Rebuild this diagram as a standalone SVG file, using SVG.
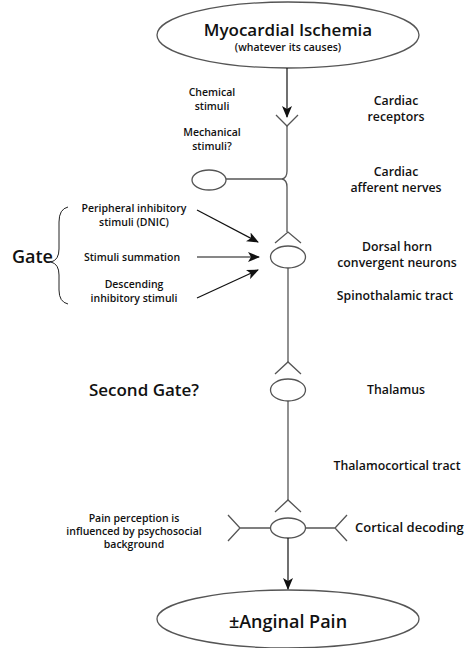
<svg xmlns="http://www.w3.org/2000/svg" width="467" height="648" viewBox="0 0 467 648">
<style>
text{font-family:"Open Sans","Liberation Sans",sans-serif;font-weight:600;fill:#111;text-anchor:middle}
.s{font-size:10.5px}
.r{font-size:12.3px}
.big{font-size:17px}
.node{fill:none;stroke:#555;stroke-width:1.3}
.ln{fill:none;stroke:#555;stroke-width:1.3}
.ar{fill:none;stroke:#111;stroke-width:1.2}
</style>
<defs>
<marker id="ah" viewBox="0 0 12 10" refX="11" refY="5" markerWidth="12" markerHeight="10" markerUnits="userSpaceOnUse" orient="auto">
<path d="M0,0 L12,5 L0,10 L3,5 Z" fill="#111"/>
</marker>
</defs>

<g id="ischemia">
<ellipse class="node" cx="288" cy="35" rx="131" ry="33"/>
<text x="288" y="36" class="big">Myocardial Ischemia</text>
<text x="288" y="51" style="font-size:10.5px">(whatever its causes)</text>
</g>

<g id="stimuli">
<text x="212" y="96" class="s">Chemical</text>
<text x="212" y="110" class="s">stimuli</text>
<text x="212" y="136" class="s">Mechanical</text>
<text x="212" y="150" class="s">stimuli?</text>
</g>

<g id="receptors">
<path class="ln" d="M276,115 L287,126 L298,115"/>
<text x="396" y="105" class="r">Cardiac</text>
<text x="396" y="121" class="r">receptors</text>
</g>

<g id="mechano">
<ellipse class="node" cx="209" cy="180" rx="17" ry="10"/>
</g>

<g id="afferent">
<text x="396" y="176" class="r">Cardiac</text>
<text x="396" y="192" class="r">afferent nerves</text>
</g>

<g id="dorsal-horn">
<path class="ln" d="M275,243 L288,232 L301,243"/>
<ellipse class="node" cx="288" cy="257" rx="17.5" ry="11"/>
<text x="397" y="251" class="r">Dorsal horn</text>
<text x="397" y="267" class="r">convergent neurons</text>
</g>

<g id="gate">
<text x="12" y="263" style="font-size:18px;text-anchor:start">Gate</text>
<path class="ln" style="stroke:#222;stroke-width:1" d="M68,207 Q59,209 59,222 L59,249 Q59,260 51,262 Q59,264 59,275 L59,290 Q59,302 68,304"/>
<text x="134" y="212" class="s">Peripheral inhibitory</text>
<text x="134" y="226" class="s">stimuli (DNIC)</text>
<text x="132" y="261" class="s">Stimuli summation</text>
<text x="134" y="288" class="s">Descending</text>
<text x="134" y="302" class="s">inhibitory stimuli</text>
</g>

<g id="spinothalamic">
<text x="395" y="300" class="r">Spinothalamic tract</text>
</g>

<g id="thalamus">
<path class="ln" d="M275,374 L288,362 L301,374"/>
<ellipse class="node" cx="288" cy="390" rx="17.5" ry="11"/>
<text x="396" y="394" class="r">Thalamus</text>
<text x="144" y="396" style="font-size:17px">Second Gate?</text>
</g>

<g id="thalamocortical">
<text x="397" y="470" class="r">Thalamocortical tract</text>
</g>

<g id="cortex">
<path class="ln" d="M275,512 L288,500 L301,512"/>
<ellipse class="node" cx="288" cy="528" rx="17.5" ry="10"/>
<path class="ln" d="M228,515 L240,528 L228,541 M240,528 H270.5 M305.5,528 H335 M347,515 L335,528 L347,541"/>
<text x="355" y="532" style="font-size:13px;text-anchor:start">Cortical decoding</text>
<text x="134" y="522" class="s">Pain perception is</text>
<text x="134" y="535" class="s">influenced by psychosocial</text>
<text x="134" y="548" class="s">background</text>
</g>

<g id="anginal-pain">
<ellipse class="node" cx="288" cy="619" rx="131" ry="29"/>
<text x="288" y="628" style="font-size:18px">±Anginal Pain</text>
</g>

<g id="connectors">
<path class="ar" d="M287,68 V117" marker-end="url(#ah)"/>
<path class="ln" d="M287,126 V171 Q287,178 282,179 M226,179 H282 Q287,180 287,187 V232"/>
<path class="ln" d="M288,268 V362"/>
<path class="ln" d="M288,401 V500"/>
<path class="ar" d="M288,538 V589" marker-end="url(#ah)"/>
<path class="ar" d="M197,210 L258,242" marker-end="url(#ah)"/>
<path class="ar" d="M197,257 L259,257" marker-end="url(#ah)"/>
<path class="ar" d="M197,298 L258,270" marker-end="url(#ah)"/>
</g>
</svg>
